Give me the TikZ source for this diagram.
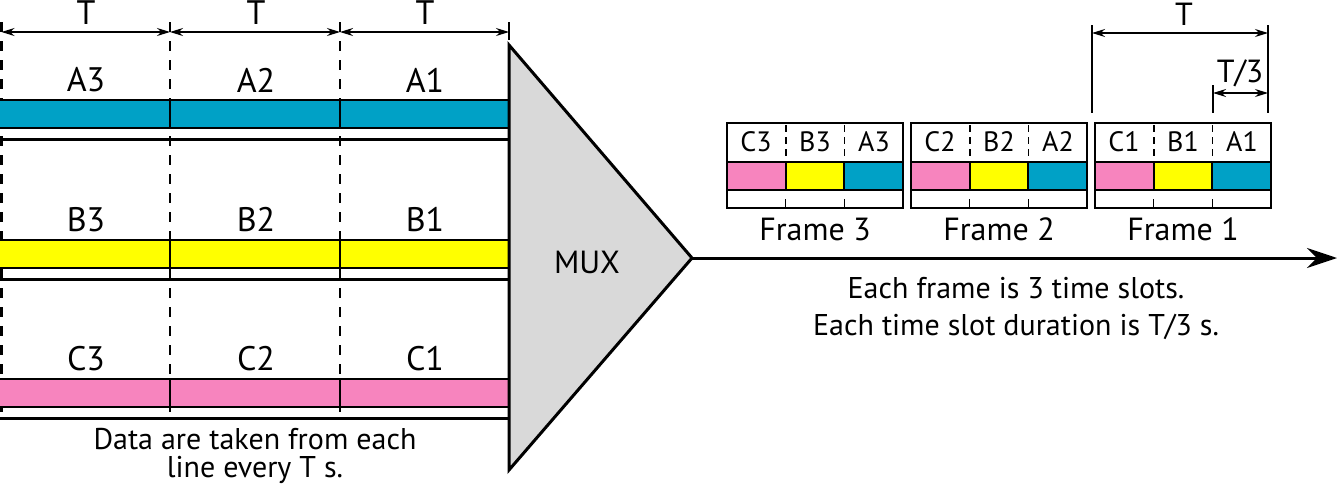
\documentclass[tikz,border=0pt]{standalone}
\usepackage{fontspec}
\setmainfont{PT Sans}
\usetikzlibrary{arrows.meta}
\definecolor{lineA}{RGB}{0,161,198}
\definecolor{lineB}{RGB}{255,255,0}
\definecolor{lineC}{RGB}{247,132,190}
\definecolor{muxgray}{RGB}{217,217,217}
\tikzset{
  biglbl/.style={font=\fontsize{34}{40}\selectfont, inner sep=0pt},
  midlbl/.style={font=\fontsize{32}{38}\selectfont, inner sep=0pt},
  slotlbl/.style={font=\fontsize{28}{34}\selectfont, inner sep=0pt},
  desc/.style={font=\fontsize{30}{36}\selectfont, inner sep=0pt, anchor=base},
  dimline/.style={line width=1.3pt, {Stealth[length=13pt,width=8pt]}-{Stealth[length=13pt,width=8pt]}},
  slotdash/.style={line width=2.2pt, dash pattern=on 10pt off 9pt},
  framedash/.style={line width=1.6pt, dash pattern=on 7pt off 5pt},
  border/.style={line width=2pt}
}
\begin{document}
\begin{tikzpicture}[x=1pt,y=-1pt]
\useasboundingbox (0,0) rectangle (1337,493);

% time boundaries of the input lines
\foreach \x in {1.5,170,340}
  \draw[slotdash] (\x,22) -- (\x,418);
\draw[line width=1.5pt] (509,22) -- (509,40);
\coordinate (d0) at (1.5,32);
\coordinate (d1) at (170,32);
\coordinate (d2) at (340,32);
\coordinate (d3) at (509,32);
\draw[dimline] (d0) -- (d1);
\draw[dimline] (d1) -- (d2);
\draw[dimline] (d2) -- (d3);
\node[biglbl] (per1) at (86,13) {T};
\node[biglbl] (per2) at (256,13) {T};
\node[biglbl] (per3) at (425,13) {T};

% input lines A, B, C
\foreach \r/\t/\col in {A/100/lineA, B/240/lineB, C/379/lineC}{
  \fill[\col] (0,\t) rectangle (509,\t+27.5);
  \draw[border] (0,\t) -- (509,\t) (0,\t+27.5) -- (509,\t+27.5);
  \draw[border] (170,\t) -- (170,\t+27.5) (340,\t) -- (340,\t+27.5);
  \draw[line width=3pt] (0,\t+39) -- (509,\t+39);
  \foreach \n/\x in {3/86,2/256,1/425}
    \node[biglbl] (in\r\n) at (\x,\t-20) {\r\n};
}
\node[desc] (take1) at (255,449) {Data are taken from each};
\node[desc] (take2) at (255,477) {line every T s.};

% multiplexer
\draw[line width=3pt, fill=muxgray, line join=miter] (509,45) -- (692,258) -- (509,470) -- cycle;
\coordinate (apex) at (692,258);
\node[midlbl] (mux) at (587,262) {MUX};

% output link
\coordinate (outend) at (1337,258);
\draw[line width=3pt, -{Stealth[length=30pt,width=20pt]}] (apex) -- (outend);

% frames
\foreach \k/\x in {3/727, 2/911, 1/1095}{
  \fill[lineC] (\x,162) rectangle (\x+58.7,190);
  \fill[lineB] (\x+58.7,162) rectangle (\x+117.3,190);
  \fill[lineA] (\x+117.3,162) rectangle (\x+176,190);
  \draw[border] (\x,123) rectangle (\x+176,208);
  \draw[border] (\x,162) -- (\x+176,162) (\x,190) -- (\x+176,190);
  \foreach \s in {58.7,117.3}{
    \draw[border] (\x+\s,162) -- (\x+\s,190);
    \draw[framedash] (\x+\s,125) -- (\x+\s,162);
    \draw[line width=1.5pt] (\x+\s,199) -- (\x+\s,208);
  }
  \node[slotlbl] (fC\k) at (\x+29,142) {C\k};
  \node[slotlbl] (fB\k) at (\x+88,142) {B\k};
  \node[slotlbl] (fA\k) at (\x+147,142) {A\k};
  \node[midlbl] (frame\k) at (\x+88,229) {Frame \k};
}

% frame and slot durations
\draw[line width=1.3pt] (1092,25) -- (1092,113) (1268,25) -- (1268,113) (1213,85) -- (1213,113);
\coordinate (fs) at (1092,33);
\coordinate (fe) at (1268,33);
\coordinate (ss) at (1213,93);
\coordinate (se) at (1268,93);
\draw[dimline] (fs) -- (fe);
\draw[dimline] (ss) -- (se);
\node[midlbl] (perF) at (1184,14) {T};
\node[midlbl] (perS) at (1240,73) {T/3};

\node[desc] (note1) at (1016,298) {Each frame is 3 time slots.};
\node[desc] (note2) at (1016,335) {Each time slot duration is T/3 s.};
\end{tikzpicture}
\end{document}
